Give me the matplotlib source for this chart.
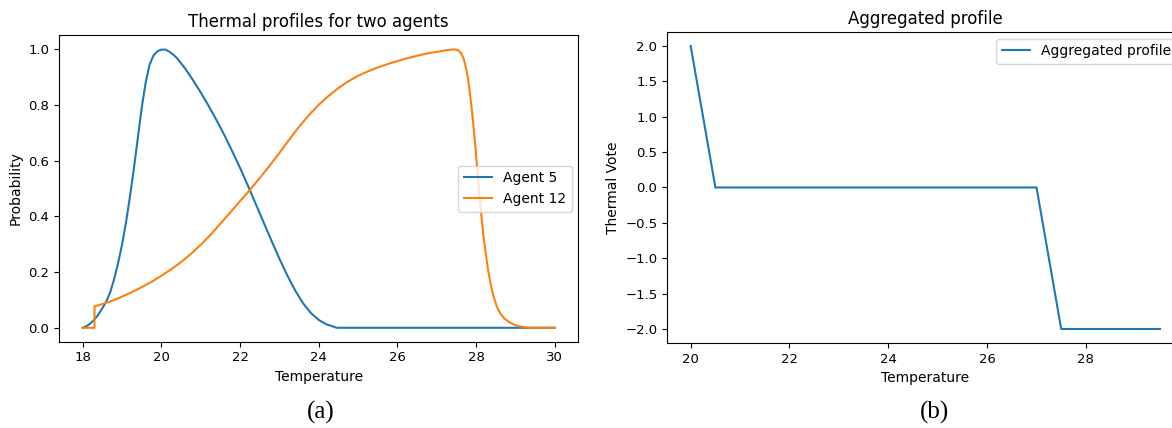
import matplotlib.pyplot as plt

# Agent thermal profiles
agent5_temp = [18.0, 18.1, 18.2, 18.3, 18.4, 18.5, 18.6, 18.7, 18.8, 18.9,
               19.0, 19.1, 19.2, 19.3, 19.4, 19.5, 19.6, 19.7, 19.8, 19.9,
               20.0, 20.1, 20.2, 20.3, 20.4, 20.6, 20.8, 21.0, 21.2, 21.4,
               21.6, 21.8, 22.0, 22.2, 22.4, 22.6, 22.8, 23.0, 23.2, 23.4,
               23.6, 23.8, 24.0, 24.2, 24.46, 30.0]
agent5_prob = [0.0, 0.006, 0.016, 0.03, 0.048, 0.07, 0.094, 0.128, 0.175, 0.232,
               0.298, 0.378, 0.47, 0.571, 0.68, 0.79, 0.88, 0.945, 0.978, 0.993,
               0.999, 0.999, 0.992, 0.981, 0.968, 0.932, 0.89, 0.845, 0.797, 0.746,
               0.692, 0.634, 0.574, 0.51, 0.444, 0.378, 0.312, 0.248, 0.188, 0.134,
               0.088, 0.053, 0.028, 0.012, 0.0, 0.0]

agent12_temp = [18.0, 18.3, 18.3, 18.5, 18.75, 19.0, 19.25, 19.5, 19.75, 20.0,
                20.25, 20.5, 20.75, 21.0, 21.25, 21.5, 21.75, 22.0, 22.25, 22.5,
                22.75, 23.0, 23.25, 23.5, 23.75, 24.0, 24.25, 24.5, 24.75, 25.0,
                25.25, 25.5, 25.75, 26.0, 26.25, 26.5, 26.75, 27.0, 27.25, 27.45,
                27.55, 27.62, 27.68, 27.73, 27.78, 27.83, 27.88, 27.93, 27.98, 28.03,
                28.08, 28.13, 28.18, 28.24, 28.3, 28.37, 28.44, 28.52, 28.61, 28.72,
                28.85, 29.0, 29.15, 29.3, 29.45, 30.0]
agent12_prob = [0.0, 0.0, 0.077, 0.085, 0.097, 0.112, 0.128, 0.146, 0.165, 0.187,
                0.21, 0.236, 0.265, 0.298, 0.334, 0.374, 0.414, 0.455, 0.495, 0.538,
                0.582, 0.628, 0.676, 0.722, 0.764, 0.801, 0.833, 0.861, 0.885, 0.905,
                0.921, 0.935, 0.947, 0.958, 0.968, 0.977, 0.985, 0.991, 0.997, 1.0,
                0.996, 0.985, 0.967, 0.94, 0.905, 0.855, 0.795, 0.726, 0.65, 0.565,
                0.48, 0.405, 0.335, 0.27, 0.21, 0.155, 0.113, 0.078, 0.052, 0.033,
                0.019, 0.009, 0.004, 0.001, 0.0, 0.0]

# Aggregated profile
agg_temp = [20.0, 20.5, 21.0, 21.5, 22.0, 22.5, 23.0, 23.5, 24.0, 24.5,
            25.0, 25.5, 26.0, 26.5, 27.0, 27.5, 28.0, 28.5, 29.0, 29.5]
agg_vote = [2, 0, 0, 0, 0, 0, 0, 0, 0, 0,
            0, 0, 0, 0, 0, -2, -2, -2, -2, -2]

fig = plt.figure(figsize=(11.72, 4.28), dpi=100)

ax1 = fig.add_axes([0.0504, 0.2016, 0.4432, 0.7157])
ax1.plot(agent5_temp, agent5_prob, label='Agent 5')
ax1.plot(agent12_temp, agent12_prob, label='Agent 12')
ax1.set_title('Thermal profiles for two agents', fontsize=12)
ax1.set_xlabel('Temperature', fontsize=10)
ax1.set_ylabel('Probability', fontsize=10)
ax1.tick_params(labelsize=9.5)
ax1.legend(loc='center right', fontsize=10)

# right panel runs past the figure edge, as in the cropped original
ax2 = fig.add_axes([0.5693, 0.1983, 0.4405, 0.7273])
ax2.plot(agg_temp, agg_vote, label='Aggregated profile')
ax2.set_title('Aggregated profile', fontsize=12)
ax2.set_xlabel('Temperature', fontsize=10)
ax2.set_ylabel('Thermal Vote', fontsize=10)
ax2.tick_params(labelsize=9.5)
ax2.legend(loc='upper right', fontsize=10)

fig.text(0.274, 0.022, '(a)', family='Liberation Serif', fontsize=18,
         ha='center', va='baseline')
fig.text(0.797, 0.022, '(b)', family='Liberation Serif', fontsize=18,
         ha='center', va='baseline')

fig.savefig('out.png', dpi=100)
